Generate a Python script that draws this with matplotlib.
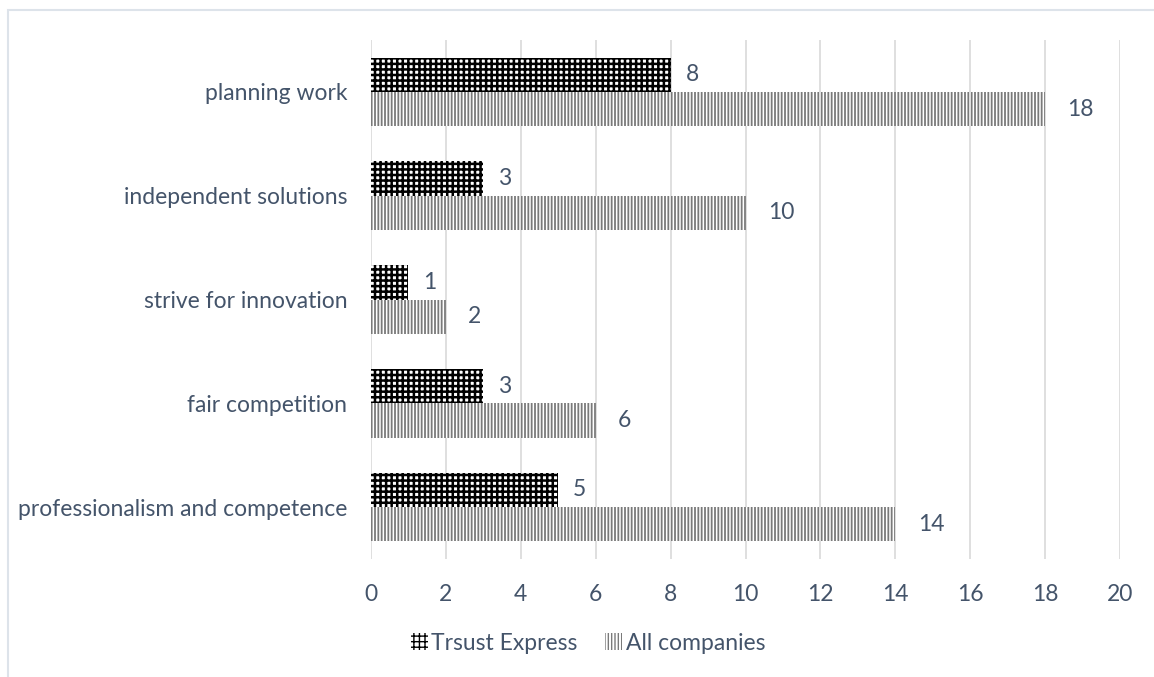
import matplotlib
matplotlib.use('Agg')
import matplotlib.pyplot as plt
from matplotlib.patches import Rectangle, Patch
import numpy as np

# data, bottom to top as drawn
categories = ['professionalism and competence', 'fair competition', 'strive for innovation',
              'independent solutions', 'planning work']
trust_express = [5, 3, 1, 3, 8]
all_companies = [14, 6, 2, 10, 18]
x_ticks = [0, 2, 4, 6, 8, 10, 12, 14, 16, 18, 20]

text_col = '#44546A'
grid_col = '#D9D9D9'
fs = 16.5
plt.rcParams['font.family'] = ['Lato', 'DejaVu Sans']

fig = plt.figure(figsize=(11.54, 6.77), dpi=100)
ax = fig.add_axes([371/1154., 1 - 559/677., (1120 - 371)/1154., (559 - 40)/677.])

# outer chart frame (cropped at right/bottom)
fig.patches.append(Rectangle((8/1154., -0.2), 1.2, 1 - 10/677. + 0.2, transform=fig.transFigure,
                             fill=False, edgecolor='#DDE3EA', linewidth=1.5, zorder=0))

y = np.arange(len(categories))
h = 0.33
with plt.rc_context({'hatch.linewidth': 1.8}):
    b1 = ax.barh(y + h/2, trust_express, height=h, color='white', edgecolor='#000000',
                 hatch='+++', linewidth=0, zorder=3)
    p1 = Patch(facecolor='white', edgecolor='#000000', hatch='+++', linewidth=0)
with plt.rc_context({'hatch.linewidth': 1.3}):
    b2 = ax.barh(y - h/2, all_companies, height=h, color='white', edgecolor='#7A7A7A',
                 hatch='|||||', linewidth=0, zorder=3)
    p2 = Patch(facecolor='white', edgecolor='#7A7A7A', hatch='|||||', linewidth=0)

for yy, v in zip(y + h/2, trust_express):
    ax.text(v + 0.4, yy, str(v), va='center', ha='left', fontsize=fs, color=text_col)
for yy, v in zip(y - h/2, all_companies):
    ax.text(v + 0.6, yy, str(v), va='center', ha='left', fontsize=fs, color=text_col)

ax.set_xlim(0, 20)
ax.set_ylim(-0.5, len(categories) - 0.5)
ax.set_xticks(x_ticks)
ax.set_yticks(y)
ax.set_yticklabels(categories)
ax.tick_params(axis='both', length=0, labelsize=fs, colors=text_col)
ax.tick_params(axis='x', pad=18)
ax.tick_params(axis='y', pad=17)
ax.grid(axis='x', color=grid_col, linewidth=1.2, zorder=0)
ax.set_axisbelow(True)
for s in ax.spines.values():
    s.set_visible(False)

fig.legend([p1, p2], ['Trsust Express', 'All companies'], loc='center',
           bbox_to_anchor=(588/1154., 1 - 643/677.), ncol=2, frameon=False,
           fontsize=fs, labelcolor=text_col, handlelength=0.75, handleheight=0.75,
           handletextpad=0.15, columnspacing=1.2)

fig.savefig('out.png', dpi=100)
